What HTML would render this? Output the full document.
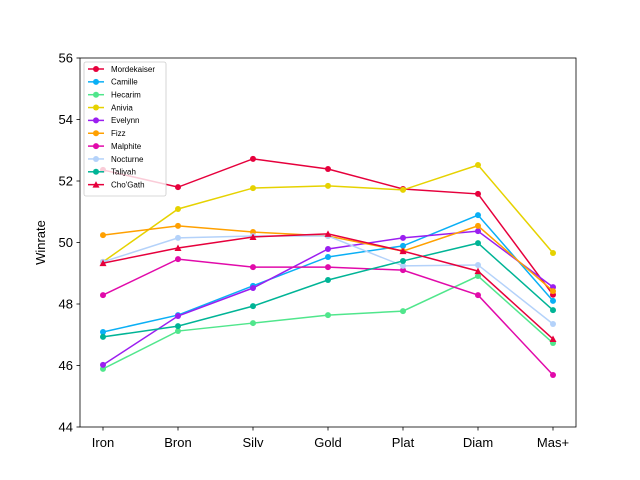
<!DOCTYPE html>
<html><head><meta charset="utf-8"><style>body{margin:0;background:#fff}svg{display:block;font-family:"Liberation Sans","DejaVu Sans",sans-serif}</style></head>
<body>
<svg id="c" width="640" height="480"></svg>
<script>
const categories=["Iron","Bron","Silv","Gold","Plat","Diam","Mas+"];
const seriesNames=["Mordekaiser","Camille","Hecarim","Anivia","Evelynn","Fizz","Malphite","Nocturne","Taliyah","Cho'Gath"];
const seriesColors=["#e6003c","#0aaff5","#50e68c","#e6d200","#9b1ef0","#ffa000","#e10aaa","#b4d2fa","#00b496","#e6003c"];
const mordekaiser=[52.36,51.8,52.72,52.39,51.74,51.58,48.3];
const camille=[47.09,47.64,48.59,49.53,49.89,50.89,48.1];
const hecarim=[45.89,47.12,47.38,47.64,47.77,48.91,46.73];
const anivia=[49.37,51.09,51.77,51.84,51.71,52.52,49.66];
const evelynn=[46.02,47.61,48.52,49.79,50.15,50.37,48.55];
const fizz=[50.24,50.54,50.34,50.21,49.72,50.54,48.42];
const malphite=[48.29,49.46,49.2,49.2,49.1,48.29,45.69];
const nocturne=[49.37,50.15,50.21,50.21,49.24,49.27,47.35];
const taliyah=[46.93,47.28,47.93,48.78,49.4,49.98,47.8];
const chogath=[49.33,49.82,50.18,50.28,49.72,49.07,46.86];
const yTicks=[44,46,48,50,52,54,56];
const allSeries=[mordekaiser,camille,hecarim,anivia,evelynn,fizz,malphite,nocturne,taliyah,chogath];

const NS="http://www.w3.org/2000/svg",svg=document.getElementById('c');
const L=80,R=576,T=58,B=427;
const x=i=>103+i*(553-103)/(categories.length-1);
const y=v=>B-(v-44)/(56-44)*(B-T);
function mk(t,a,p){const e=document.createElementNS(NS,t);for(const k in a)e.setAttribute(k,a[k]);(p||svg).appendChild(e);return e;}
const keyOf=n=>n.toLowerCase().replace(/[^a-z]/g,'');
// series
allSeries.forEach((d,s)=>{
  const g=mk('g',{});
  
  
  const pl=mk('polyline',{points:d.map((v,i)=>x(i)+','+y(v)).join(' '),fill:'none',stroke:seriesColors[s],'stroke-width':1.5},g);
  
  
  d.forEach((v,i)=>{
    let m;
    if(s===9){const cx=x(i),cy=y(v);m=mk('polygon',{points:`${cx},${cy-3.5} ${cx-3.5},${cy+3} ${cx+3.5},${cy+3}`,fill:seriesColors[s]},g);}
    else m=mk('circle',{cx:x(i),cy:y(v),r:3,fill:seriesColors[s]},g);
    
    
  });
});
// axes frame
const fr=mk('rect',{x:L,y:T,width:R-L,height:B-T,fill:'none',stroke:'#000','stroke-width':0.8});


categories.forEach((c,i)=>{
  mk('line',{x1:x(i),x2:x(i),y1:B,y2:B+3.5,stroke:'#000','stroke-width':0.8});
  const t=mk('text',{x:x(i),y:B+20,'text-anchor':'middle','font-size':13});
  t.textContent=c;
  
  
});
yTicks.forEach(v=>{
  mk('line',{x1:L-3.5,x2:L,y1:y(v),y2:y(v),stroke:'#000','stroke-width':0.8});
  const t=mk('text',{x:L-7,y:y(v)+4.5,'text-anchor':'end','font-size':13});
  t.textContent=v;
  
  
});
const yl=mk('text',{x:45,y:(T+B)/2,'text-anchor':'middle','font-size':13,transform:`rotate(-90 45 ${(T+B)/2})`});
yl.textContent='Winrate';


// legend
const lg=mk('g',{});


mk('rect',{x:84,y:62,width:82,height:134,rx:2,fill:'#fff','fill-opacity':0.8,stroke:'#ccc','stroke-width':0.8},lg);
seriesNames.forEach((n,s)=>{
  const e=mk('g',{},lg);
  
  
  const cy=69+s*12.85;
  mk('line',{x1:88,x2:104,y1:cy,y2:cy,stroke:seriesColors[s],'stroke-width':1.5},e);
  if(s===9)mk('polygon',{points:`96,${cy-3.5} 92.5,${cy+3} 99.5,${cy+3}`,fill:seriesColors[s]},e);
  else mk('circle',{cx:96,cy:cy,r:3,fill:seriesColors[s]},e);
  const t=mk('text',{x:111,y:cy+2.8,'font-size':8},e);
  t.textContent=n;
});
</script>
</body></html>
